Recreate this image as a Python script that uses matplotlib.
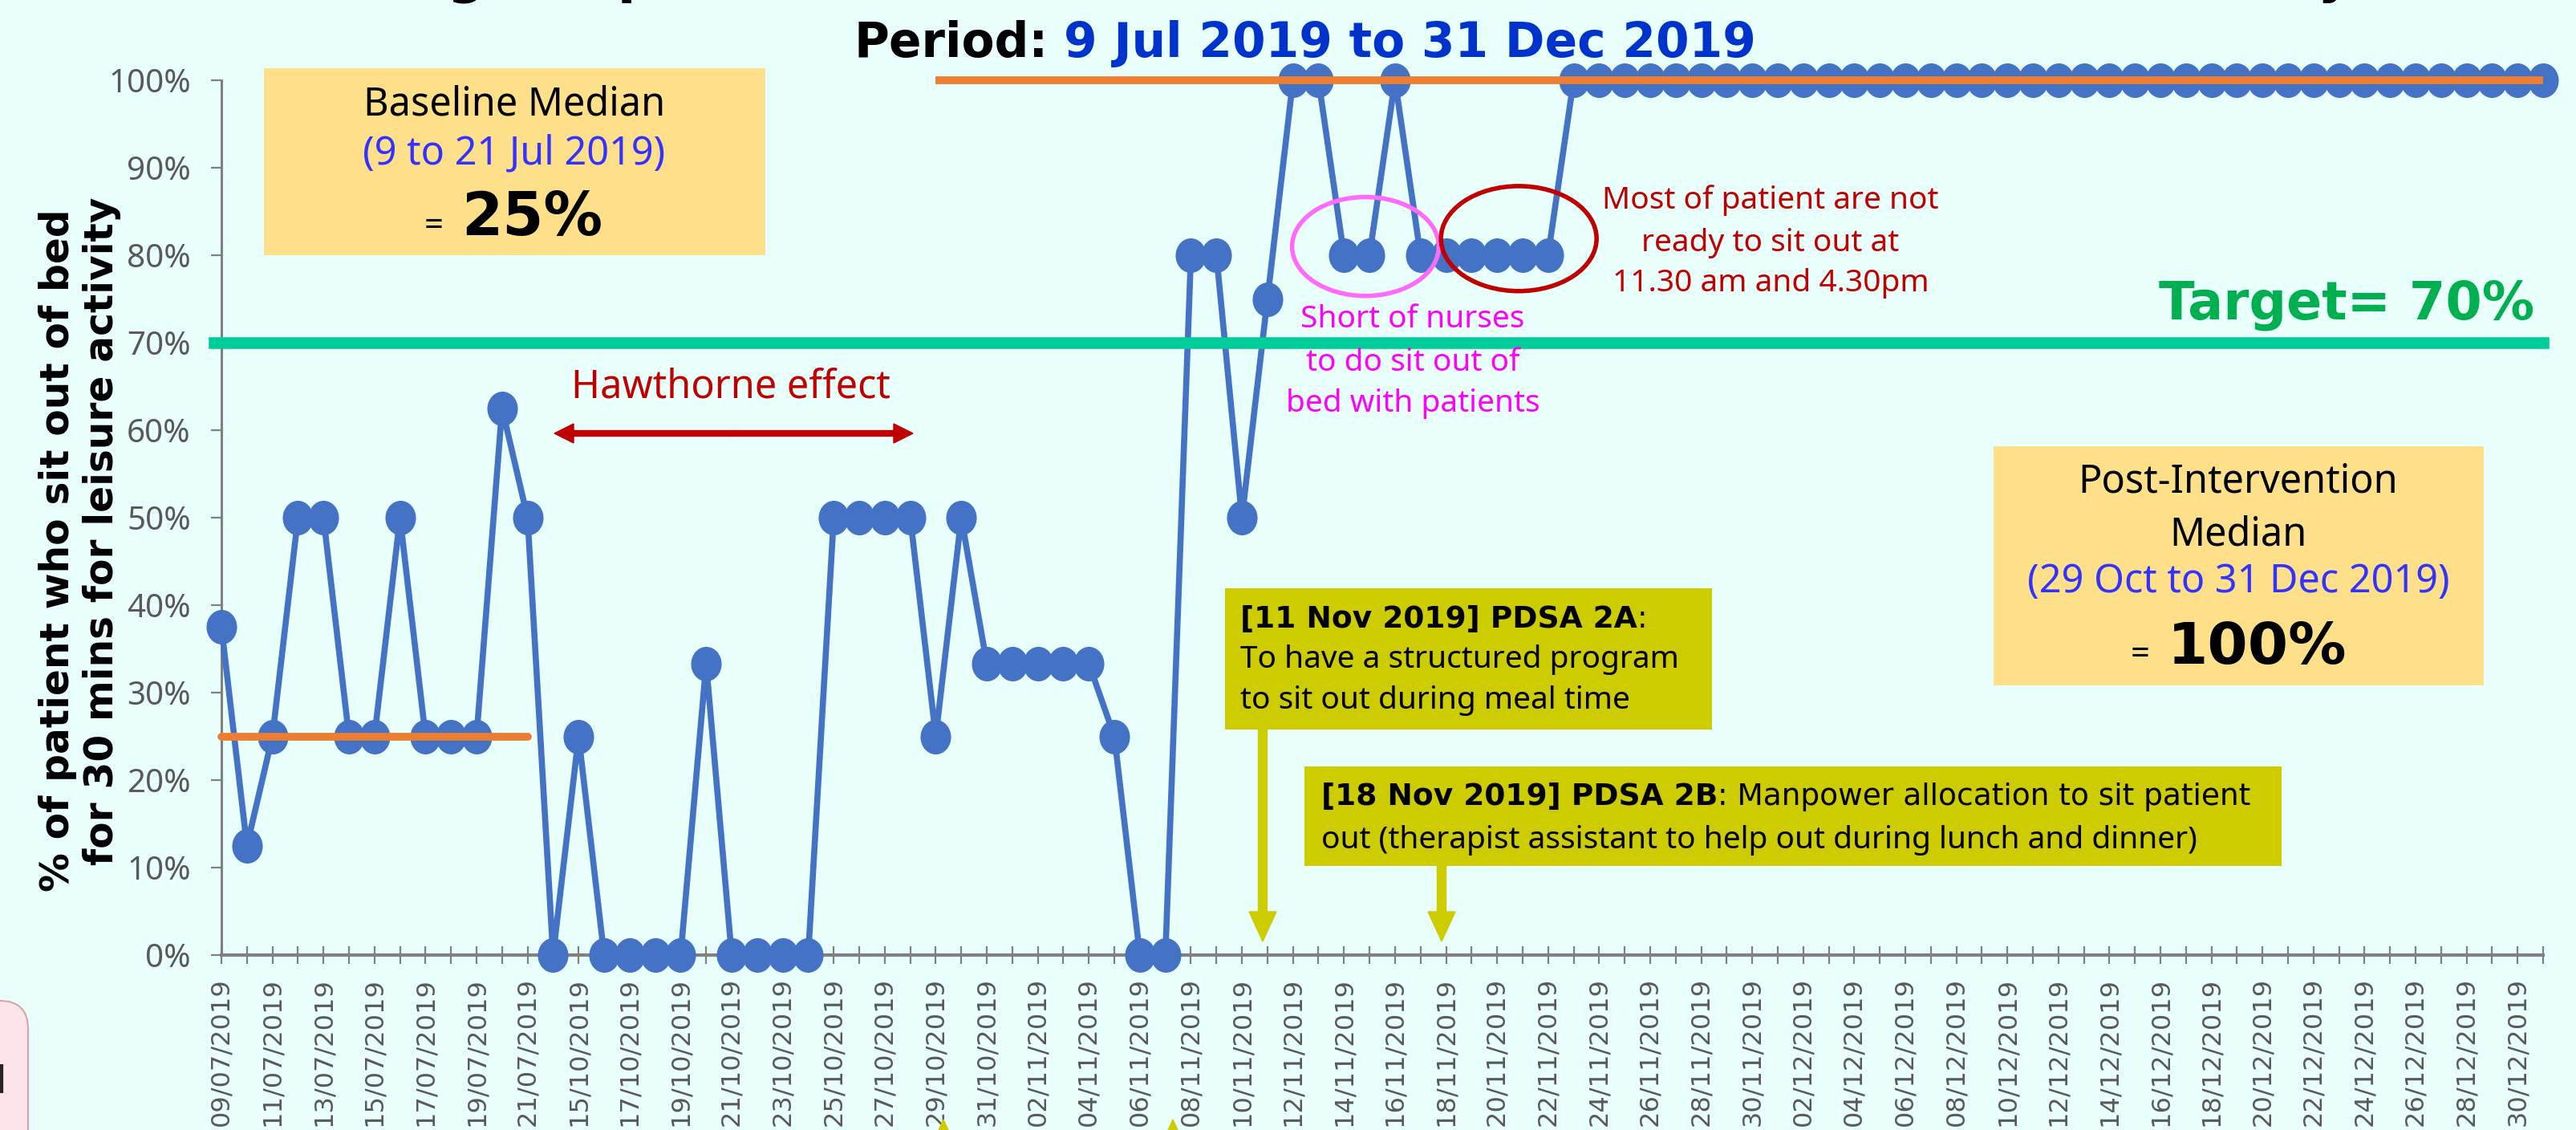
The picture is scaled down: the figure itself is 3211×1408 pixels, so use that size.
import matplotlib
matplotlib.use('Agg')
import matplotlib.pyplot as plt
from matplotlib.patches import Rectangle, Ellipse, FancyArrow, FancyBboxPatch
from matplotlib.path import Path
from matplotlib.text import Annotation
from matplotlib.transforms import IdentityTransform
import pandas as pd

# ---- data ----
dates_baseline = pd.date_range('2019-07-09', '2019-07-21')
dates_post = pd.date_range('2019-10-14', '2019-12-31')
date_labels = [d.strftime('%d/%m/%Y') for d in dates_baseline.append(dates_post)]

pct_baseline = [37.5, 12.5, 25, 50, 50, 25, 25, 50, 25, 25, 25, 62.5, 50]
pct_oct_nov = [0, 25, 0, 0, 0, 0, 33.3, 0, 0, 0, 0, 50, 50, 50, 50, 25, 50,
               33.3, 33.3, 33.3, 33.3, 33.3, 25, 0, 0]
pct_nov = [80, 80, 50, 75, 100, 100, 80, 80, 100, 80, 80, 80, 80, 80, 80, 100]
pct_late = [100, 100, 100, 100, 100, 100, 100, 100, 100, 100, 100, 100, 100,
            100, 100, 100, 100, 100, 100, 100, 100, 100, 100, 100, 100, 100,
            100, 100, 100, 100, 100, 100, 100, 100, 100, 100, 100, 100]
pct_sit_out = pct_baseline + pct_oct_nov + pct_nov + pct_late

baseline_median = 25
post_median = 100
target = 70
baseline_last = 12   # 21/07/2019
post_first = 28      # 29/10/2019

W, H = 3211, 1408
BG = '#E8FFFC'
BLUE = '#4472C4'
ORANGE = '#ED7D31'
GREEN = '#00CC99'
DARKRED = '#C00000'
GRAY = '#808080'
TXT = '#595959'
plt.rcParams['font.family'] = ['Noto Sans', 'DejaVu Sans']
BOLD = dict(family='DejaVu Sans', fontweight='bold')


def fx(x):
    return x / W


def fy(y):
    return 1 - y / H


def py(y):
    return H - y


fig = plt.figure(figsize=(W / 100, H / 100), dpi=100)
fig.patch.set_facecolor(BG)
ax = fig.add_axes([fx(276), fy(1190), (3170 - 276) / W, (1190 - 100) / H])
ax.set_facecolor(BG)

x = list(range(len(pct_sit_out)))

circ = Path.unit_circle()
oval = Path(circ.vertices * [0.88, 1.0], circ.codes)

ax.plot(x, pct_sit_out, color=BLUE, lw=5.5, marker=oval, ms=30,
        clip_on=False, zorder=3)
ax.axhline(target, xmin=-0.003, xmax=1, color=GREEN, lw=10.5, clip_on=False, zorder=4)
ax.plot(x[:baseline_last + 1], [baseline_median] * (baseline_last + 1),
        color=ORANGE, lw=7, solid_capstyle='round', clip_on=False, zorder=5)
ax.plot(x[post_first:], [post_median] * (len(x) - post_first),
        color=ORANGE, lw=7, solid_capstyle='butt', clip_on=False, zorder=5)

ax.set_xlim(0, len(x) - 1)
ax.set_ylim(0, 100)
ax.set_yticks(range(0, 101, 10))
ax.set_yticklabels([f'{v}%' for v in range(0, 101, 10)], fontsize=29, color=TXT)
ax.set_xticks(x)
ax.set_xticklabels([lab if i % 2 == 0 else '' for i, lab in enumerate(date_labels)],
                   rotation=90, fontsize=23, color=TXT, family='DejaVu Sans')
ax.tick_params(axis='x', direction='inout', length=16, width=1.6, color=GRAY, pad=12)
ax.tick_params(axis='y', direction='out', length=9.5, width=1.6, color=GRAY, pad=18)
for s in ['top', 'right']:
    ax.spines[s].set_visible(False)
ax.spines['left'].set_color(GRAY)
ax.spines['left'].set_linewidth(2.2)
ax.spines['bottom'].set_color(GRAY)
ax.spines['bottom'].set_linewidth(3)

# circles around the 80% points
ax.add_patch(Ellipse((44.84, 81.0), 5.75, 11.3, fill=False, ec='#FF6BFF', lw=4,
                     clip_on=False, zorder=6))
ax.add_patch(Ellipse((50.85, 81.9), 6.1, 12.0, fill=False, ec=DARKRED, lw=4,
                     clip_on=False, zorder=6))


def after(t, s, dx=0, **kw):
    a = Annotation(s, xy=(1, 0), xycoords=t, xytext=(dx, 0),
                   textcoords='offset pixels', va='bottom', ha='left', **kw)
    fig.add_artist(a)
    a.set_zorder(4)
    return a


# title (top line cut off by the crop)
fig.text(fx(224), 1 + 11 / H,
         'Percentage of patients who sit out of bed for 30 mins for leisure activity',
         ha='left', va='baseline', fontsize=47.6, **BOLD)
tp = fig.text(fx(1065), fy(71), 'Period:', ha='left', va='baseline',
              fontsize=43, **BOLD)
after(tp, '9 Jul 2019 to 31 Dec 2019', dx=19, fontsize=43, color='#0033CC', **BOLD)

# y label
fig.text(fx(72), fy(686), '% of patient who sit out of bed', rotation=90,
         ha='center', va='center', fontsize=35, **BOLD)
fig.text(fx(127), fy(662), 'for 30 mins for leisure activity', rotation=90,
         ha='center', va='center', fontsize=35, **BOLD)

# baseline median box
fig.add_artist(Rectangle((329, py(318)), 954 - 329, 318 - 85, fc='#FFE08A', ec='none',
                         transform=IdentityTransform()))
fig.text(fx(641), fy(130), 'Baseline Median', ha='center', va='center', fontsize=35)
fig.text(fx(641), fy(191), '(9 to 21 Jul 2019)', ha='center', va='center',
         fontsize=35, color='#3333FF')
fig.text(fx(529), fy(293), '=', ha='left', va='baseline', fontsize=30)
fig.text(fx(575), fy(293), '25%', ha='left', va='baseline', fontsize=53, **BOLD)

# post-intervention box
fig.add_artist(Rectangle((2485, py(854)), 3096 - 2485, 854 - 556, fc='#FFE08A',
                         ec='none', transform=IdentityTransform()))
fig.text(fx(2790), fy(600), 'Post-Intervention', ha='center', va='center', fontsize=35)
fig.text(fx(2790), fy(666), 'Median', ha='center', va='center', fontsize=35)
fig.text(fx(2790), fy(725), '(29 Oct to 31 Dec 2019)', ha='center', va='center',
         fontsize=35, color='#3333FF')
fig.text(fx(2656), fy(827), '=', ha='left', va='baseline', fontsize=30)
fig.text(fx(2702), fy(827), '100%', ha='left', va='baseline', fontsize=52, **BOLD)

# target label
fig.text(fx(3159), fy(380), 'Target= 70%', ha='right', va='center', fontsize=47,
         color='#00B050', **BOLD)

# Hawthorne effect
fig.text(fx(712), fy(482), 'Hawthorne effect', ha='left', va='center', fontsize=35,
         color=DARKRED)
mid = (691 + 1138) / 2
for end in (691, 1138):
    fig.add_artist(FancyArrow(mid, py(540), end - mid, 0, width=7, head_width=24,
                              head_length=24, length_includes_head=True,
                              color=DARKRED, transform=IdentityTransform()))

# notes near the circles
for yy, s in zip([398, 452, 503], ['Short of nurses', 'to do sit out of',
                                   'bed with patients']):
    fig.text(fx(1761), fy(yy), s, ha='center', va='center', fontsize=28,
             color='#FF00FF')
for yy, s in zip([250, 303, 353], ['Most of patient are not', 'ready to sit out at',
                                   '11.30 am and 4.30pm']):
    fig.text(fx(2207), fy(yy), s, ha='center', va='center', fontsize=28,
             color=DARKRED)

# PDSA boxes
OLIVE = '#CCCC00'
fig.add_artist(Rectangle((1527, py(909)), 2134 - 1527, 909 - 733, fc=OLIVE, ec='none',
                         transform=IdentityTransform()))
t2a = fig.text(fx(1546), fy(772), '[11 Nov 2019] PDSA 2A', ha='left', va='center',
               fontsize=27, **BOLD)
after(t2a, ':', fontsize=27, family='DejaVu Sans')
fig.text(fx(1546), fy(822), 'To have a structured program', ha='left', va='center',
         fontsize=28)
fig.text(fx(1546), fy(873), 'to sit out during meal time', ha='left', va='center',
         fontsize=28)

fig.add_artist(Rectangle((1626, py(1079)), 2844 - 1626, 1079 - 955, fc=OLIVE,
                         ec='none', transform=IdentityTransform()))
t2b = fig.text(fx(1647), fy(993), '[18 Nov 2019] PDSA 2B', ha='left', va='center',
               fontsize=27, **BOLD)
after(t2b, ': Manpower allocation to sit patient', fontsize=27, family='DejaVu Sans')
fig.text(fx(1647), fy(1047), 'out (therapist assistant to help out during lunch and dinner)',
         ha='left', va='center', fontsize=28)

for xa, y0 in [(1574, 909), (1797, 1079)]:
    fig.add_artist(FancyArrow(xa, py(y0), 0, -(1173 - y0), width=11, head_width=34,
                              head_length=37, length_includes_head=True, color=OLIVE,
                              transform=IdentityTransform()))
# arrows from notes below the crop
for xa in [1176, 1462]:
    fig.add_artist(FancyArrow(xa, py(1520), 0, 1520 - 1395, width=11, head_width=34,
                              head_length=37, length_includes_head=True, color=OLIVE,
                              transform=IdentityTransform()))

# partly visible note box at bottom left
fig.add_artist(FancyBboxPatch((-80, py(1480)), 115, 1480 - 1247,
                              boxstyle='round,pad=0,rounding_size=35',
                              fc='#FCE4E8', ec='#D8A4AA', lw=1.5,
                              transform=IdentityTransform()))
fig.text(fx(8), fy(1362), 'l', ha='right', va='baseline', fontsize=34, color='#262626',
         fontweight='bold')

fig.savefig('out.png', dpi=100, facecolor=BG)
